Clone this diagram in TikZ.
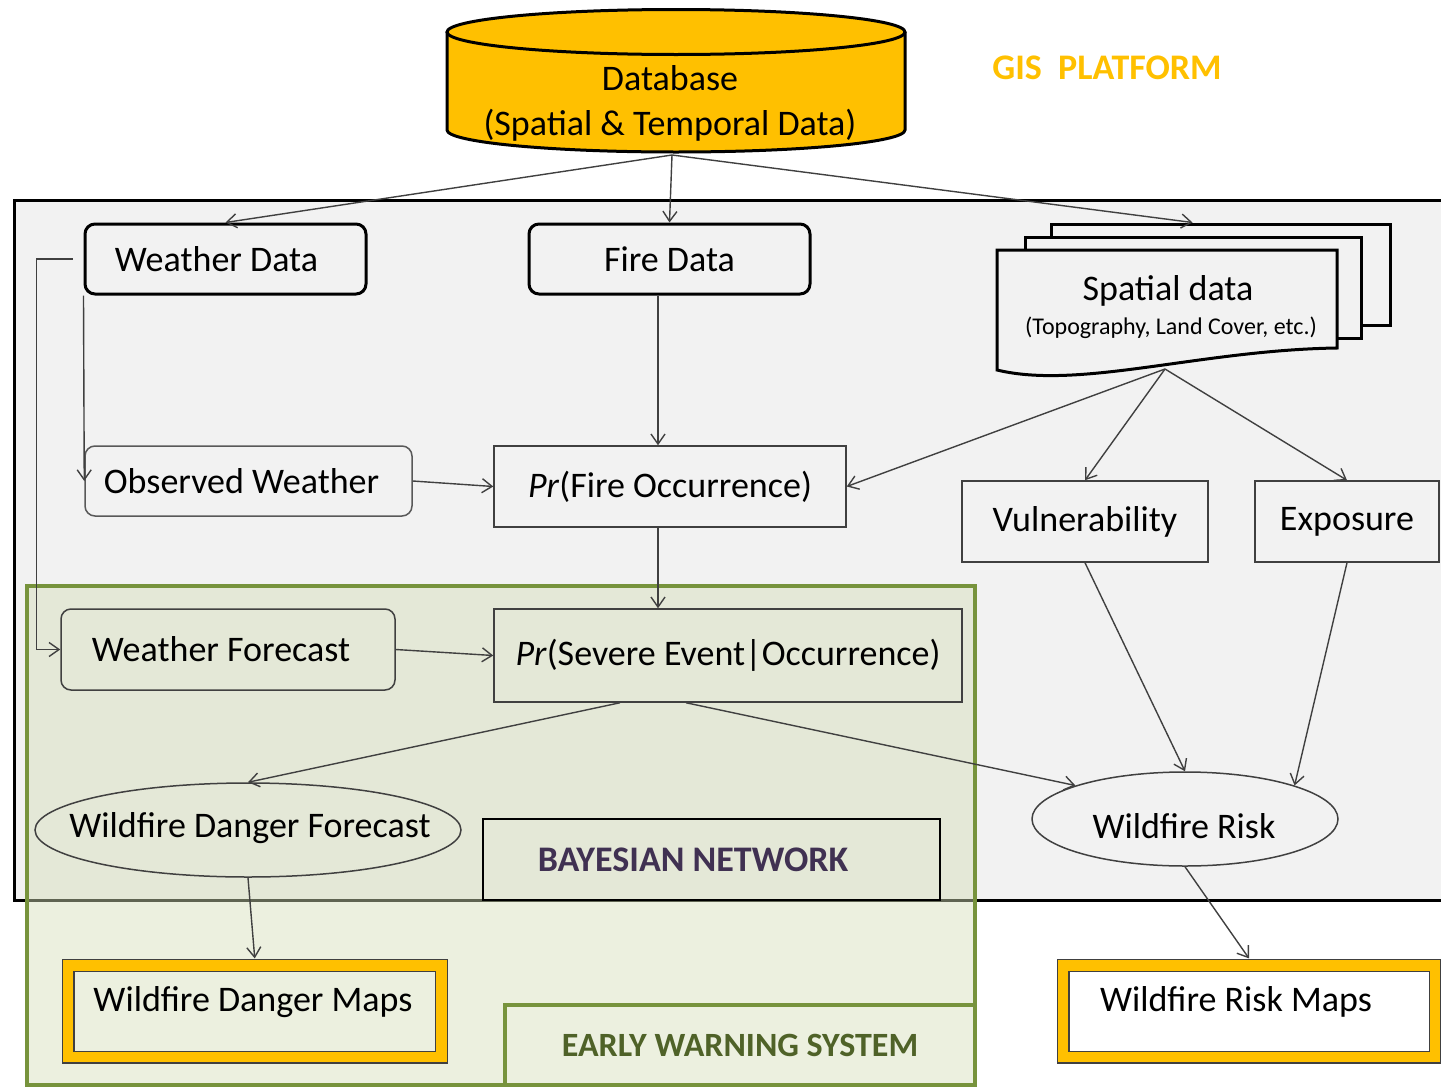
\documentclass[tikz,border=0pt]{standalone}
\usepackage{fontspec}
\setmainfont{Carlito}
\usetikzlibrary{arrows.meta,shapes.geometric,calc}
\definecolor{gold}{HTML}{FFC000}
\definecolor{bggrey}{HTML}{F2F2F2}
\definecolor{olive}{HTML}{77933C}
\definecolor{ewsgreen}{HTML}{D4DEB8}
\definecolor{bnpurple}{HTML}{403152}
\definecolor{ewstext}{HTML}{4F6228}
\definecolor{linegrey}{HTML}{404040}
\definecolor{boxgrey}{HTML}{595959}
\begin{document}
\begin{tikzpicture}[x=0.5pt,y=-0.5pt,
  font=\fontsize{18}{21}\selectfont,
  thickrbox/.style={draw=black, line width=1.5pt, rounded corners=5pt, inner sep=0pt},
  thinrbox/.style={draw=boxgrey, line width=0.75pt, rounded corners=5pt, inner sep=0pt},
  thinbox/.style={draw=linegrey, line width=0.75pt, inner sep=0pt},
  sheet/.style={draw=black, fill=bggrey, line width=1.5pt, inner sep=0pt},
  ell/.style={ellipse, draw=linegrey, line width=0.75pt, inner sep=0pt},
  mapbox/.style={draw=linegrey, line width=0.6pt, double=gold, double distance=5.3pt, inner sep=0pt,
     minimum height=45.75pt},
  conn/.style={draw=linegrey, line width=0.7pt, -{Straight Barb[length=5pt,width=7pt]}}
]
\useasboundingbox (0,0) rectangle (1441,1087);

% GIS platform frame
\fill[bggrey] (14,200) rectangle (1441,900);
\draw[line width=1.5pt] (1441,200) -- (14,200) -- (14,900) -- (1441,900);

% Early warning area
\fill[ewsgreen, fill opacity=0.45] (27,586) rectangle (975,1085);
\draw[olive, line width=2pt] (27,586) rectangle (975,1085);
\node[draw=olive, line width=2pt, minimum width=235pt, minimum height=40pt, inner sep=0pt,
      text=ewstext, font=\bfseries\fontsize{17}{20}\selectfont] (EWS) at (740,1045) {EARLY WARNING SYSTEM};

% Database cylinder
\fill[gold] (447,32) -- (447,130) arc[start angle=180,end angle=360,x radius=114.5pt,y radius=11pt] -- (905,32) -- cycle;
\draw[line width=1.5pt] (447,32) -- (447,130) arc[start angle=180,end angle=360,x radius=114.5pt,y radius=11pt] -- (905,32);
\filldraw[fill=gold, line width=1.5pt] (676,32) ellipse [x radius=114.5pt, y radius=11.25pt];
\node[align=center] (DB) at (670,103) {Database\\[1.5pt](Spatial \& Temporal Data)};
\coordinate (DBb) at (672,155);

\node[text=gold, font=\bfseries\fontsize{18}{21}\selectfont] (GIS) at (1107,68) {GIS\ \ PLATFORM};

% Spatial data stacked sheets
\node[sheet, minimum width=169.5pt, minimum height=50.5pt] (SPback) at (1220.5,274.5) {};
\node[sheet, minimum width=168pt, minimum height=50.5pt] (SPmid) at (1193,287.5) {};
\filldraw[fill=bggrey, line width=1.5pt] (997,250) -- (1337,250) -- (1337,348)
   .. controls (1200,350) and (1080,390) .. (997,370) -- cycle;
\node (SP) at (1168,291) {Spatial data};
\node[font=\fontsize{12}{14}\selectfont] (SPsub) at (1171,328) {(Topography, Land Cover, etc.)};
\coordinate (SPbot) at (1165,369);

% Nodes
\node[thickrbox, minimum width=140.5pt, minimum height=35pt] (WD) at (225.5,259) {Weather Data\hspace*{9pt}};
\node[thickrbox, minimum width=140.5pt, minimum height=35pt] (FD) at (669.5,259) {Fire Data};
\node[thinrbox, minimum width=163.5pt, minimum height=35pt] (OW) at (248.5,481) {Observed Weather\hspace*{7pt}};
\node[thinbox, minimum width=176pt, minimum height=40.5pt] (PF) at (670,486.5) {\textit{Pr}(Fire Occurrence)};
\node[thinbox, minimum width=123pt, minimum height=40.5pt] (VU) at (1085,521.5) {Vulnerability};
\node[thinbox, minimum width=92pt, minimum height=40.5pt] (EX) at (1347,521.5) {Exposure};
\node[thinrbox, draw=linegrey, minimum width=167pt, minimum height=40.5pt] (WF) at (228,649.5) {Weather Forecast\hspace*{7pt}};
\node[thinbox, minimum width=234pt, minimum height=46.5pt] (PS) at (728,655.5) {\textit{Pr}(Severe Event|Occurrence)};
\node[ell, minimum width=213pt, minimum height=47pt] (WDF) at (248,830) {};
\node (WDFt) at (250,828) {Wildfire Danger Forecast};
\node[ell, minimum width=153pt, minimum height=47pt] (WR) at (1185,819) {};
\node (WRt) at (1184,826) {Wildfire Risk};
\node[draw=black, line width=1.2pt, inner sep=0pt, minimum width=228.5pt, minimum height=40.5pt,
      text=bnpurple, font=\bfseries\fontsize{18}{21}\selectfont] (BN) at (711.5,859.5) {BAYESIAN NETWORK\hspace*{18.5pt}};
\node[mapbox, minimum width=186.75pt] (WDM) at (254.75,1011.25) {};
\node (WDMt) at (253,1002) {Wildfire Danger Maps};
\node[mapbox, fill=white, minimum width=186pt] (WRM) at (1249,1011.25) {};
\node (WRMt) at (1236,1002) {Wildfire Risk Maps};

% Connectors
\draw[conn] (DBb) -- (WD.north);
\draw[conn] (DBb) -- (FD.north);
\draw[conn] (DBb) -- ($(SPback.north)+(-28,0)$);
\draw[conn] (WD.south west) -- (OW.west);
\draw[conn] ($(WD.west)+(-11,0)$) -- ++(-36,0) |- (WF.west);
\draw[conn] ($(FD.south)+(-11.5,0)$) -- ($(PF.north)+(-12,0)$);
\draw[conn] (OW.east) -- (PF.west);
\draw[conn] (SPbot) -- (PF.east);
\draw[conn] (SPbot) -- (VU.north);
\draw[conn] (SPbot) -- (EX.north);
\draw[conn] ($(PF.south)+(-12,0)$) -- ($(PS.north)+(-70,0)$);
\draw[conn] (WF.east) -- (PS.west);
\draw[conn] ($(PS.south)+(-108,0)$) -- (WDF.north);
\draw[conn] ($(PS.south)+(-42,0)$) -- (WR.163);
\draw[conn] (VU.south) -- (WR.north);
\draw[conn] (EX.south) -- (WR.17);
\draw[conn] (WDF.south) -- ($(WDM.north)+(0,-6.5)$);
\draw[conn] (WR.south) -- ($(WRM.north)+(0,-6.5)$);
\end{tikzpicture}
\end{document}
